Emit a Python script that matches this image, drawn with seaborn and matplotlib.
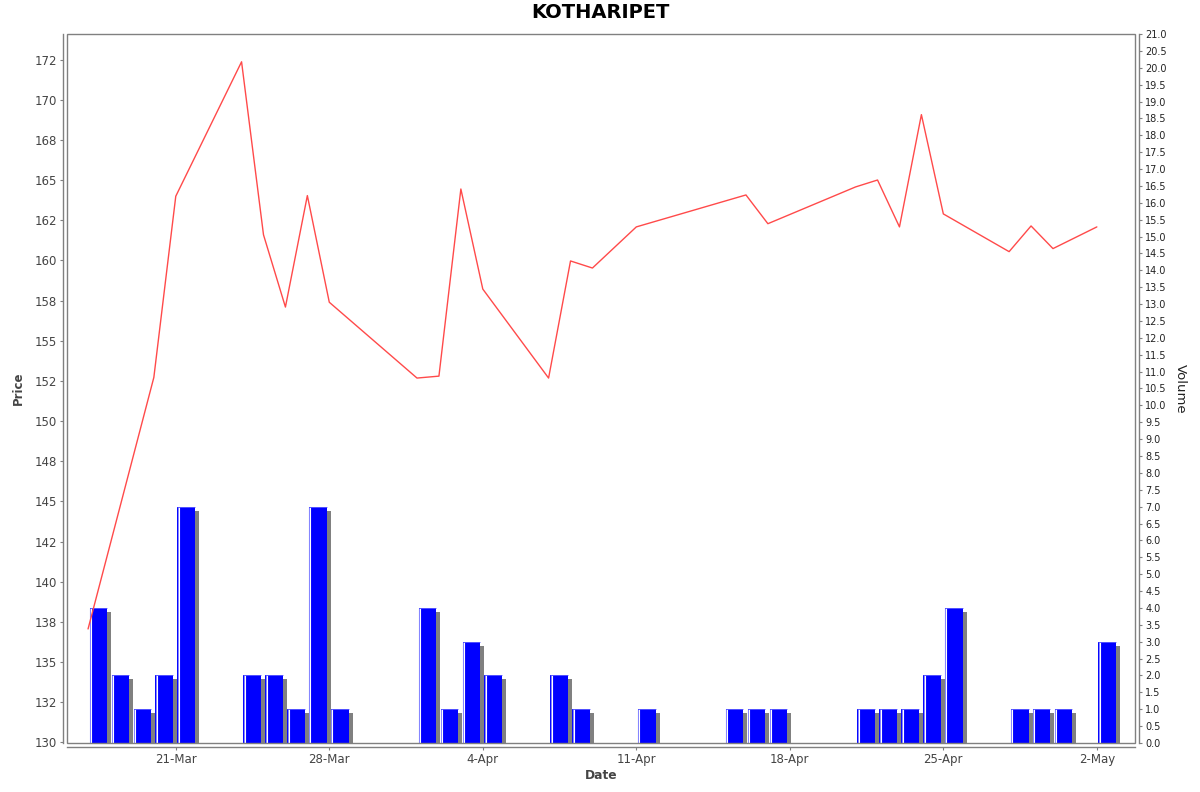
import matplotlib
matplotlib.use("Agg")
import matplotlib.pyplot as plt
import matplotlib.dates as mdates
from matplotlib.patches import Rectangle
import seaborn as sns
import pandas as pd
import numpy as np

# ---------------- data ----------------
title = "KOTHARIPET"
price_dates = ["2025-03-17", "2025-03-20", "2025-03-21", "2025-03-24", "2025-03-25",
               "2025-03-26", "2025-03-27", "2025-03-28", "2025-04-01", "2025-04-02",
               "2025-04-03", "2025-04-04", "2025-04-07", "2025-04-08", "2025-04-09",
               "2025-04-11", "2025-04-16", "2025-04-17", "2025-04-21", "2025-04-22",
               "2025-04-23", "2025-04-24", "2025-04-25", "2025-04-28", "2025-04-29",
               "2025-04-30", "2025-05-02"]
price_values = [137.06, 152.72, 164.0, 172.37, 161.6,
                157.1, 164.04, 157.4, 152.68, 152.8,
                164.45, 158.22, 152.68, 159.97, 159.53,
                162.09, 164.08, 162.29, 164.58, 165.01,
                162.09, 169.08, 162.9, 160.55, 162.15,
                160.74, 162.09]

volume_dates = ["2025-03-17", "2025-03-18", "2025-03-19", "2025-03-20", "2025-03-21",
                "2025-03-24", "2025-03-25", "2025-03-26", "2025-03-27", "2025-03-28",
                "2025-04-01", "2025-04-02", "2025-04-03", "2025-04-04", "2025-04-07",
                "2025-04-08", "2025-04-11", "2025-04-15", "2025-04-16", "2025-04-17",
                "2025-04-21", "2025-04-22", "2025-04-23", "2025-04-24", "2025-04-25",
                "2025-04-28", "2025-04-29", "2025-04-30", "2025-05-02"]
volume_values = [4, 2, 1, 2, 7,
                 2, 2, 1, 7, 1,
                 4, 1, 3, 2, 2,
                 1, 1, 1, 1, 1,
                 1, 1, 1, 2, 4,
                 1, 1, 1, 3]

date_ticks = ["2025-03-21", "2025-03-28", "2025-04-04", "2025-04-11",
              "2025-04-18", "2025-04-25", "2025-05-02"]
date_tick_labels = ["21-Mar", "28-Mar", "4-Apr", "11-Apr", "18-Apr", "25-Apr", "2-May"]

price_ticks = [130, 132.5, 135, 137.5, 140, 142.5, 145, 147.5, 150, 152.5,
               155, 157.5, 160, 162.5, 165, 167.5, 170, 172.5]
price_tick_labels = ["130", "132", "135", "138", "140", "142", "145", "148", "150",
                     "152", "155", "158", "160", "162", "165", "168", "170", "172"]

volume_ticks = [i * 0.5 for i in range(43)]
volume_tick_labels = [f"{v:.1f}" for v in volume_ticks]

# ---------------- figure ----------------
sns.set_style("white")
plt.rcParams["font.family"] = ["DejaVu Sans"]

fig = plt.figure(figsize=(12, 7.92), dpi=100)
L, R, T, B = 67 / 1200, 1135 / 1200, 1 - 34 / 792, 1 - 743 / 792
ax = fig.add_axes([L, B, R - L, T - B])
ax2 = ax.twinx()

pdates = pd.to_datetime(price_dates)
vdates = pd.to_datetime(volume_dates)

px_day = 1 / 21.93           # one pixel in days
vol_per_px = 21.0 / 709      # one pixel in volume units

# volume bars (secondary axis)
vnum = mdates.date2num(vdates)
start = vnum + 0.075
width = 0.81
vals = np.array(volume_values, dtype=float)
ax2.bar(start + 4 * px_day, vals - 4 * vol_per_px, width=width, align="edge",
        color="#808080", linewidth=0, zorder=1)
ax2.bar(start, vals, width=width, align="edge", color="#0000ff", linewidth=0, zorder=2)
ax2.vlines(start + 0.5 * px_day, 0, vals, color="#8080ff", linewidth=0.8, zorder=3)
ax2.vlines(start + 1.5 * px_day, 0, vals, color="#ffffff", linewidth=0.8, zorder=3)
ax2.hlines(vals, start, start + width, color="#6060ff", linewidth=0.6, zorder=3)

# price line (primary axis, drawn above bars)
dfp = pd.DataFrame({"Date": pdates, "Price": price_values})
sns.lineplot(data=dfp, x="Date", y="Price", ax=ax, color="#ff4a4a",
             linewidth=1.0, sort=False, estimator=None)
ax.set_zorder(ax2.get_zorder() + 1)
ax.patch.set_visible(False)

# limits
d0 = mdates.date2num(pd.Timestamp("2025-03-21"))
ax.set_xlim(d0 - 4.96, d0 + 43.74)
ax.set_ylim(129.96, 174.1)
ax2.set_ylim(0, 21.0)

# ticks
ax.set_xticks(mdates.date2num(pd.to_datetime(date_ticks)))
ax.set_xticklabels(date_tick_labels)
ax.set_yticks(price_ticks)
ax.set_yticklabels(price_tick_labels)
ax2.set_yticks(volume_ticks)
ax2.set_yticklabels(volume_tick_labels)

grey = "#808080"
ax.tick_params(axis="both", which="both", direction="out", length=2.5, width=0.8,
               color=grey, labelsize=8.5, labelcolor="#444444", pad=2,
               left=True, bottom=True, right=False, top=False)
ax2.tick_params(axis="y", direction="out", length=2.5, width=0.8, color=grey,
                labelsize=7, labelcolor="#222222", pad=2, right=True)
ax2.tick_params(axis="x", bottom=False, labelbottom=False)

# spines: offset axis lines + border rectangle
for a in (ax, ax2):
    for s in a.spines.values():
        s.set_visible(False)
off = 4 * 72 / 100
ax.spines["left"].set_visible(True)
ax.spines["left"].set_position(("outward", off))
ax.spines["bottom"].set_visible(True)
ax.spines["bottom"].set_position(("outward", off))
ax2.spines["right"].set_visible(True)
ax2.spines["right"].set_position(("outward", off))
for s in (ax.spines["left"], ax.spines["bottom"], ax2.spines["right"]):
    s.set_color(grey)
    s.set_linewidth(1.0)
ax.add_patch(Rectangle((0, 0), 1, 1, transform=ax.transAxes, fill=False,
                       edgecolor=grey, linewidth=1.0, clip_on=False, zorder=10))

# labels
ax.set_xlabel("Date", fontsize=8.8, fontweight="bold", color="#444444")
ax.set_ylabel("Price", fontsize=8.5, fontweight="bold", color="#444444")
ax.xaxis.set_label_coords(0.5, -0.0367)
ax.yaxis.set_label_coords(-0.039, 0.5)
ax2.set_ylabel("Volume", fontsize=9.5, color="#222222", rotation=-90, labelpad=0)
ax2.yaxis.set_label_coords(1.0485, 0.5)

fig.text(0.5, 1 - 13 / 792, title, ha="center", va="center",
         fontsize=14, fontweight="bold", color="#000000")

fig.savefig("out.png", dpi=100, facecolor="white")
